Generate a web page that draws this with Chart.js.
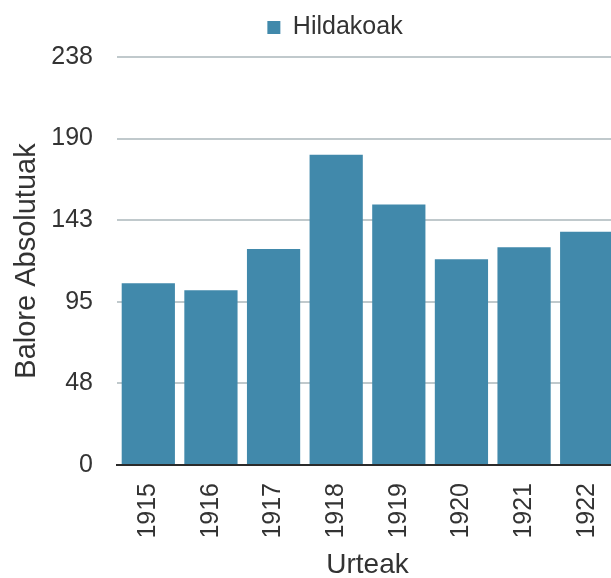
<!DOCTYPE html>
<html>
<head>
<meta charset="utf-8">
<script src="https://cdn.jsdelivr.net/npm/chart.js@4/dist/chart.umd.min.js"></script>
<style>
  html, body { margin: 0; padding: 0; background: #fff; overflow: hidden; }
  #wrap { position: relative; width: 618px; height: 582px; }
</style>
</head>
<body>
<div id="wrap"><canvas id="deathsChart"></canvas></div>
<script>
const years = ['1915', '1916', '1917', '1918', '1919', '1920', '1921', '1922'];
const deaths = [106, 102, 126, 181, 152, 120, 127, 136];
const yTickValues = [0, 47.6, 95.2, 142.8, 190.4, 238];
const yTickLabels = ['0', '48', '95', '143', '190', '238'];

const barColor = '#4189ab';
const textColor = '#333333';
const fontFamily = '"Liberation Sans", Arial, Helvetica, sans-serif';

// nudge the legend to the right, like in the original picture
const legendShift = {
    id: 'legendShift',
    afterLayout(chart) {
        chart.legend.left += 26;
        chart.legend.right += 26;
    }
};

document.addEventListener("DOMContentLoaded", function() {
    const ctx = document.getElementById('deathsChart').getContext('2d');

    new Chart(ctx, {
        type: 'bar',
        data: {
            labels: years,
            datasets: [{
                label: 'Hildakoak',
                data: deaths,
                backgroundColor: barColor,
                borderWidth: 0,
                barPercentage: 0.85,
                categoryPercentage: 1.0
            }]
        },
        options: {
            responsive: true,
            maintainAspectRatio: false,
            animation: false,
            layout: { padding: 0 },
            plugins: {
                legend: {
                    position: 'top',
                    labels: {
                        color: textColor,
                        boxWidth: 13,
                        boxHeight: 13,
                        padding: 15,
                        font: { family: fontFamily, size: 25 }
                    }
                },
                // empty spacer between legend and plot area
                subtitle: {
                    display: true,
                    text: '',
                    weight: 500,
                    padding: 0,
                    font: { size: 7, lineHeight: 1 }
                },
                tooltip: { enabled: false }
            },
            scales: {
                x: {
                    grid: { display: false, drawTicks: false },
                    border: { display: true, color: '#2b2b2b', width: 2 },
                    ticks: {
                        color: textColor,
                        minRotation: 90,
                        maxRotation: 90,
                        padding: 18,
                        font: { family: fontFamily, size: 25 }
                    },
                    title: {
                        display: true,
                        text: 'Urteak',
                        color: textColor,
                        padding: { top: 4, bottom: 0 },
                        font: { family: fontFamily, size: 28 }
                    },
                    afterFit: function(scale) {
                        scale.height = 117;
                        scale.paddingLeft = 0;
                        scale.paddingRight = 0;
                    }
                },
                y: {
                    min: 0,
                    max: 238,
                    afterBuildTicks: function(axis) {
                        axis.ticks = yTickValues.map(v => ({ value: v }));
                    },
                    grid: {
                        drawTicks: false,
                        color: function(c) {
                            return c.index === 0 ? 'rgba(0,0,0,0)' : '#c0c9cc';
                        },
                        lineWidth: 2
                    },
                    border: { display: false },
                    ticks: {
                        color: textColor,
                        padding: 24,
                        font: { family: fontFamily, size: 25 },
                        callback: function(value, index) {
                            return yTickLabels[index];
                        }
                    },
                    title: {
                        display: true,
                        text: 'Balore Absolutuak',
                        color: textColor,
                        padding: { top: 10, bottom: 0 },
                        font: { family: fontFamily, size: 29 }
                    },
                    afterFit: function(scale) {
                        scale.width = 117;
                    }
                }
            }
        },
        plugins: [legendShift]
    });
});
</script>
</body>
</html>
